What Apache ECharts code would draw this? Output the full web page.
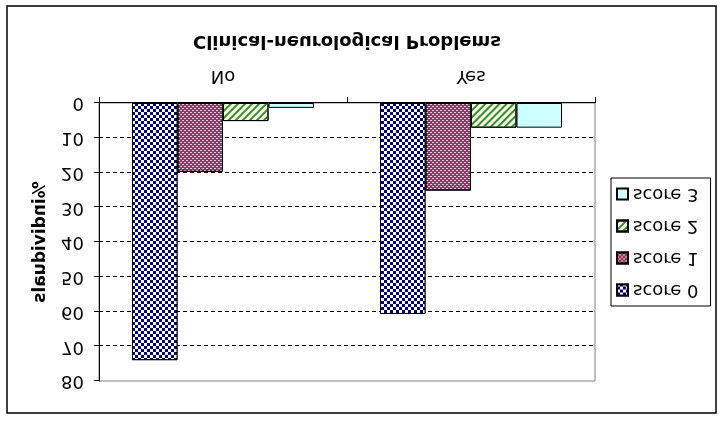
<!DOCTYPE html>
<html>
<head>
<meta charset="utf-8">
<script src="https://cdn.jsdelivr.net/npm/echarts@6/dist/echarts.min.js"></script>
<style>
html,body{margin:0;padding:0;background:#fff;}
#chart{width:724px;height:421px;transform:scaleY(-1);}
</style>
</head>
<body>
<div id="chart"></div>
<script>
var categories = ['No', 'Yes'];
var seriesNames = ['score 0', 'score 1', 'score 2', 'score 3'];
var score0 = [74.0, 60.7];
var score1 = [19.8, 25.2];
var score2 = [5.2, 7.1];
var score3 = [1.4, 7.1];
var yTicks = [0, 10, 20, 30, 40, 50, 60, 70, 80];
var titleText = 'Clinical-neurological Problems';
var yName = '%individuals';

var FONT = '"DejaVu Sans", Verdana, sans-serif';
var values = [score0, score1, score2, score3];
var fills = ['#000080', '#993366', '#ffffcc', '#ccffff'];
var decals = [
  {symbol:'rect', symbolSize:1, color:'#ffffff', dashArrayX:[[3,3],[0,3,3,0]], dashArrayY:[3,0], rotation:0},
  {symbol:'rect', symbolSize:1, color:'rgba(255,255,255,0.75)', dashArrayX:[[2,2],[0,2,2,0]], dashArrayY:[1,1], rotation:0},
  {symbol:'rect', symbolSize:1, color:'#2e8b57', dashArrayX:[1,0], dashArrayY:[2,2.5], rotation:Math.PI/4},
  'none'
];

var chart = echarts.init(document.getElementById('chart'), null, {renderer:'canvas'});
var series = seriesNames.map(function(n, i){
  var st = {color: fills[i], borderColor:'#000', borderWidth:1};
  if (decals[i] !== 'none') st.decal = decals[i];
  return {
    name: n, type:'bar', data: values[i], barWidth: 45.5, barGap: '0%',
    itemStyle: st
  };
});

chart.setOption({
  animation:false,
  backgroundColor:'#fff',
  grid:{left:99, right:129, top:40, bottom:103, show:true, borderColor:'#808080', borderWidth:1, backgroundColor:'transparent'},
  xAxis:{
    type:'category', data: categories,
    axisLine:{show:true, lineStyle:{color:'#000', width:1}},
    axisTick:{show:true, length:6, lineStyle:{color:'#000'}},
    axisLabel:{color:'#000', fontFamily:FONT, fontSize:18, margin:18},
    splitLine:{show:false}
  },
  yAxis:{
    type:'value', min: yTicks[0], max: yTicks[yTicks.length-1], interval: yTicks[1]-yTicks[0],
    axisLine:{show:true, lineStyle:{color:'#000', width:1}},
    axisTick:{show:true, length:5, lineStyle:{color:'#000'}},
    axisLabel:{color:'#000', fontFamily:FONT, fontSize:18, margin:15},
    splitLine:{show:true, showMinLine:false, showMaxLine:false, lineStyle:{color:'#000', type:[4,3], width:1}}
  },
  legend:{
    data: seriesNames, orient:'vertical', left:611, top:115,
    itemWidth:11, itemHeight:11, itemGap:12,
    padding:[6,12,6,5], borderColor:'#000', borderWidth:1,
    icon:'rect',
    textStyle:{color:'#000', fontFamily:FONT, fontSize:18, lineHeight:20}
  },
  graphic:[
    {type:'rect', shape:{x:7, y:8, width:709, height:407}, style:{fill:'none', stroke:'#000', lineWidth:1.5}, silent:true},
    {type:'text', x:347, y:380, style:{text:titleText, textAlign:'center', textVerticalAlign:'middle', font:'bold 18px ' + FONT, fill:'#000'}},
    {type:'text', x:41, y:179, rotation:Math.PI/2, style:{text:yName, textAlign:'center', textVerticalAlign:'middle', font:'bold 17px ' + FONT, fill:'#000'}}
  ],
  series: series
});
</script>
</body>
</html>
